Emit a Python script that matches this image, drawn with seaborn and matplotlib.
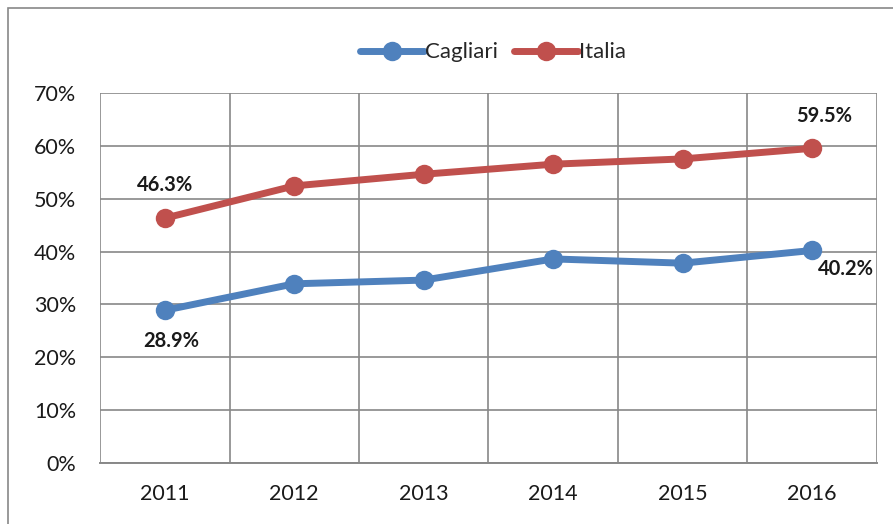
import pandas as pd
import matplotlib
matplotlib.use('Agg')
import matplotlib.pyplot as plt
import seaborn as sns
from matplotlib.ticker import FuncFormatter, FixedLocator

anni = ['2011', '2012', '2013', '2014', '2015', '2016']
cagliari = [28.9, 33.9, 34.6, 38.6, 37.8, 40.2]
italia = [46.3, 52.4, 54.6, 56.5, 57.5, 59.5]

df = pd.DataFrame({
    'Anno': anni * 2,
    'Valore': cagliari + italia,
    'Serie': ['Cagliari'] * 6 + ['Italia'] * 6,
})

sns.set_style('white')
plt.rcParams['font.family'] = ['Lato', 'DejaVu Sans']

fig = plt.figure(figsize=(8.93, 5.24), dpi=100)
ax = fig.add_axes([0.112, 0.116, 0.870, 0.707])

colori = {'Cagliari': '#4f81bd', 'Italia': '#c0504d'}
sns.lineplot(data=df, x='Anno', y='Valore', hue='Serie', palette=colori,
             marker='o', markersize=14, linewidth=5, markeredgewidth=0,
             sort=False, ax=ax)

ax.set_xlim(-0.5, 5.5)
ax.set_ylim(0, 70)
ax.set_yticks(range(0, 71, 10))
ax.yaxis.set_major_formatter(FuncFormatter(lambda v, p: f'{v:.0f}%'))
ax.xaxis.set_minor_locator(FixedLocator([i - 0.5 for i in range(7)]))
ax.grid(True, which='major', axis='y', color='#888888', linewidth=1.2)
ax.grid(True, which='minor', axis='x', color='#888888', linewidth=1.2)
ax.set_axisbelow(True)
ax.tick_params(axis='x', which='major', length=0, pad=15, labelsize=15.5, colors='#1a1a1a')
ax.tick_params(axis='x', which='minor', length=6, color='#888888', direction='out')
ax.tick_params(axis='y', length=0, pad=17, labelsize=15.5, colors='#1a1a1a')
ax.set_xlabel('')
ax.set_ylabel('')
for s in ['top', 'right', 'left']:
    ax.spines[s].set_visible(False)
ax.spines['bottom'].set_color('#888888')
ax.spines['bottom'].set_linewidth(1.4)

# etichette dati
stile = dict(textcoords='offset points', ha='center', va='center',
             fontsize=14.5, fontweight='bold', color='#1a1a1a')
ax.annotate(f'{italia[0]:.1f}%', (0, italia[0]), xytext=(0, 24), **stile)
ax.annotate(f'{cagliari[0]:.1f}%', (0, cagliari[0]), xytext=(5, -22), **stile)
ax.annotate(f'{italia[5]:.1f}%', (5, italia[5]), xytext=(9, 23), **stile)
ax.annotate(f'{cagliari[5]:.1f}%', (5, cagliari[5]), xytext=(24, -13), **stile)

leg = ax.legend(loc='center', bbox_to_anchor=(0.552, 0.9), bbox_transform=fig.transFigure,
                ncol=2, frameon=False, fontsize=16, handlelength=2.9,
                handletextpad=0.05, columnspacing=0.7)

# bordo esterno
fig.patches.append(plt.Rectangle((8 / 893, -0.1), 1.2, 1.1 - 8 / 524,
                                 transform=fig.transFigure, fill=False,
                                 edgecolor='#888888', linewidth=1.2))

fig.savefig('out.png', dpi=100)
